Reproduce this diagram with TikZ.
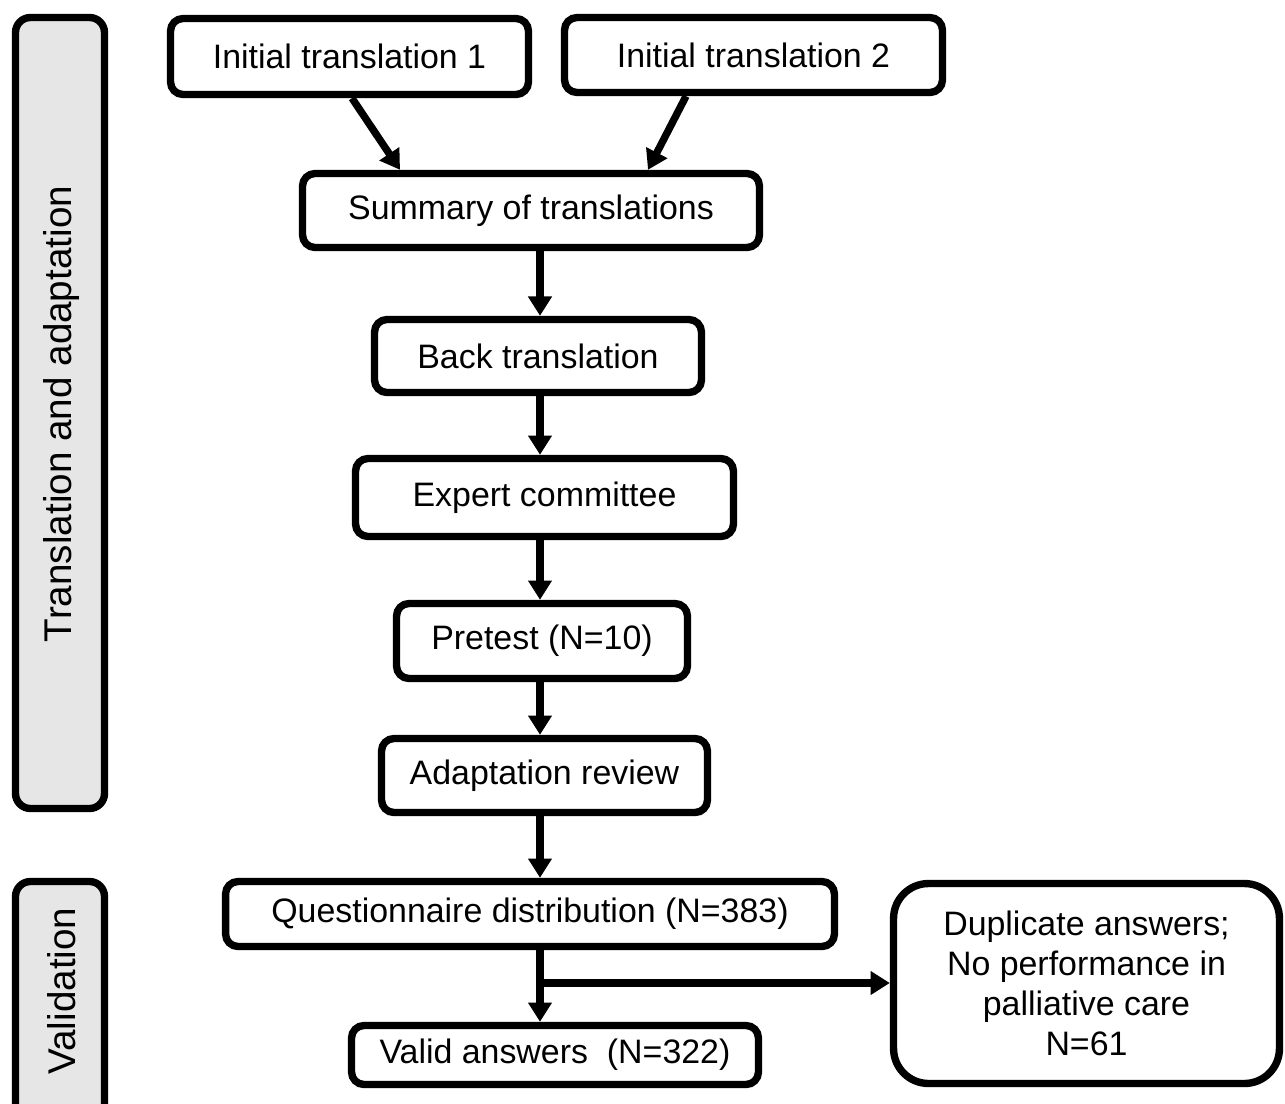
\documentclass[tikz,border=0pt]{standalone}
\usepackage{fontspec}
\setmainfont{Liberation Sans}
\usetikzlibrary{arrows.meta}
\definecolor{sidegray}{RGB}{230,230,230}
\begin{document}
\begin{tikzpicture}[x=0.02cm,y=-0.02cm,
    box/.style={draw,line width=4.2pt,rounded corners=0.25cm,fill=white,align=center,
      inner sep=0pt,font=\fontsize{19.3}{22.8}\selectfont},
    sidebox/.style={draw,line width=4.2pt,rounded corners=0.3cm,fill=sidegray},
    sidetext/.style={rotate=90,font=\fontsize{22}{26}\selectfont},
    arr/.style={line width=4.2pt,-{Triangle[length=11pt,width=13pt]}}]
\clip (0,0) rectangle (1285,1103);

% phase boxes on the left
\draw[sidebox] (15.5,17.5) rectangle (104.5,808.5);
\node[sidetext] (phase1) at (62,414) {Translation and adaptation};
\draw[sidebox] (15.5,881.5) rectangle (104.5,1160);
\node[sidetext] (phase2) at (62,991) {Validation};

\node[box,minimum width=7.16cm,minimum height=1.52cm] (init1) at (349.5,56.5) {Initial translation 1};
\node[box,minimum width=7.56cm,minimum height=1.50cm] (init2) at (753.5,55) {Initial translation 2};
\node[box,minimum width=9.14cm,minimum height=1.48cm] (summ) at (531,210.5) {Summary of translations};
\node[box,minimum width=6.54cm,minimum height=1.46cm] (back) at (538,356) {Back translation};
\node[box,minimum width=7.56cm,minimum height=1.56cm] (expert) at (544.5,497.5) {Expert committee};
\node[box,minimum width=5.82cm,minimum height=1.50cm] (pretest) at (542,641) {Pretest (N=10)};
\node[box,minimum width=6.52cm,minimum height=1.48cm] (review) at (544.5,775.5) {Adaptation review};
\node[box,minimum width=12.18cm,minimum height=1.30cm] (quest) at (530,914) {Questionnaire distribution (N=383)};
\node[box,minimum width=8.14cm,minimum height=1.18cm] (valid) at (555,1055) {Valid answers\ \ (N=322)};
\node[box,rounded corners=0.7cm,minimum width=7.72cm,minimum height=4cm] (excl) at (1086.5,983.5)
  {Duplicate answers;\\No performance in\\palliative care\\N=61};

\coordinate (axis) at (540,0);
\coordinate (split) at (540,983);

\draw[arr] ([xshift=0.05cm]init1.south) -- ([xshift=-2.62cm]summ.north);
\draw[arr] ([xshift=-1.35cm]init2.south) -- ([xshift=2.34cm]summ.north);
\draw[arr] (summ.south -| axis) -- (back.north -| axis);
\draw[arr] (back.south -| axis) -- (expert.north -| axis);
\draw[arr] (expert.south -| axis) -- (pretest.north -| axis);
\draw[arr] (pretest.south -| axis) -- (review.north -| axis);
\draw[arr] (review.south -| axis) -- (quest.north -| axis);
\draw[arr] (quest.south -| axis) -- (valid.north -| axis);
\draw[arr] (split) -- (split -| excl.west);
\end{tikzpicture}
\end{document}
